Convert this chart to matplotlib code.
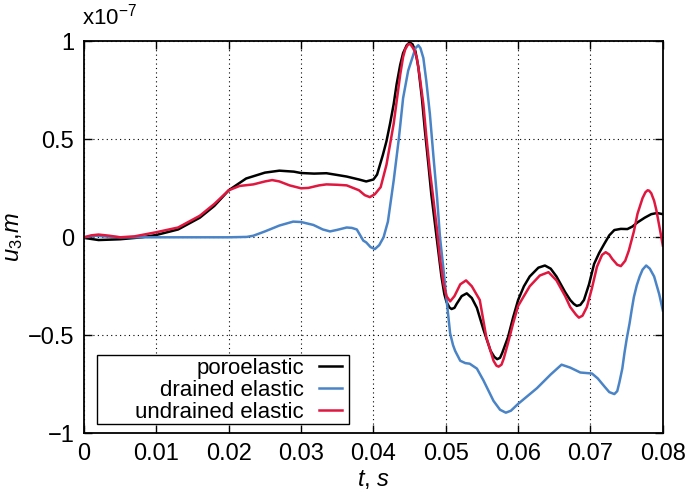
import matplotlib.pyplot as plt
from matplotlib.patches import Rectangle

# time in s, displacement in units of 1e-7 m
t_poro = [0.000, 0.002, 0.005, 0.008, 0.010, 0.013, 0.016, 0.018, 0.020, 0.0224,
          0.025, 0.027, 0.029, 0.030, 0.0318, 0.0335, 0.035, 0.0363, 0.038, 0.039,
          0.040, 0.0405, 0.0409, 0.0413, 0.0418, 0.0423, 0.0428, 0.0432, 0.0437, 0.0441,
          0.0446, 0.0450, 0.0454, 0.0458, 0.0462, 0.0467, 0.0471, 0.0476, 0.0480, 0.0485,
          0.0490, 0.0494, 0.0498, 0.0501, 0.0505, 0.0508, 0.0512, 0.0515, 0.0522, 0.0529,
          0.0536, 0.0543, 0.0552, 0.0562, 0.0567, 0.0571, 0.0575, 0.0578, 0.0586, 0.0593,
          0.0600, 0.0608, 0.0616, 0.0628, 0.0637, 0.0645, 0.0653, 0.0665, 0.0672, 0.0677,
          0.0681, 0.0686, 0.0691, 0.0698, 0.0705, 0.0712, 0.0719, 0.0726, 0.0733, 0.0742,
          0.0751, 0.0758, 0.0765, 0.0775, 0.0784, 0.0792, 0.0800]
u_poro = [-0.003, -0.014, -0.010, 0.000, 0.012, 0.040, 0.100, 0.160, 0.240, 0.300,
          0.330, 0.340, 0.335, 0.328, 0.325, 0.327, 0.318, 0.310, 0.295, 0.285,
          0.295, 0.320, 0.370, 0.420, 0.490, 0.580, 0.680, 0.780, 0.880, 0.940,
          0.980, 0.995, 0.985, 0.950, 0.870, 0.710, 0.550, 0.370, 0.220, 0.070,
          -0.080, -0.200, -0.290, -0.330, -0.358, -0.366, -0.360, -0.340, -0.300, -0.286,
          -0.310, -0.360, -0.470, -0.580, -0.610, -0.622, -0.615, -0.590, -0.510, -0.410,
          -0.320, -0.250, -0.200, -0.155, -0.144, -0.160, -0.200, -0.280, -0.320, -0.340,
          -0.350, -0.345, -0.320, -0.240, -0.136, -0.080, -0.034, 0.010, 0.037, 0.043,
          0.042, 0.055, 0.076, 0.100, 0.118, 0.124, 0.118]

t_drained = [0.000, 0.0015, 0.003, 0.005, 0.010, 0.015, 0.020, 0.0225, 0.0234, 0.025,
             0.027, 0.0289, 0.030, 0.0317, 0.033, 0.034, 0.035, 0.0363, 0.037, 0.0377,
             0.0386, 0.039, 0.0396, 0.0402, 0.0408, 0.0414, 0.042, 0.0428, 0.0435, 0.0441,
             0.0448, 0.0455, 0.0458, 0.0462, 0.0465, 0.0469, 0.0473, 0.0478, 0.0483, 0.0488,
             0.0492, 0.0497, 0.0502, 0.0506, 0.0510, 0.0513, 0.0520, 0.0527, 0.0533, 0.0543,
             0.0552, 0.0566, 0.0575, 0.0583, 0.0590, 0.0600, 0.0626, 0.0645, 0.0660, 0.0672,
             0.0686, 0.0702, 0.0710, 0.0719, 0.0726, 0.0733, 0.0737, 0.0740, 0.0744, 0.0747,
             0.0750, 0.0754, 0.0757, 0.0760, 0.0764, 0.0768, 0.0772, 0.0777, 0.0782, 0.0788,
             0.0795, 0.0800]
u_drained = [0.000, 0.008, 0.004, 0.000, 0.000, 0.000, 0.000, 0.002, 0.008, 0.030,
             0.060, 0.080, 0.078, 0.063, 0.040, 0.030, 0.038, 0.050, 0.048, 0.040,
             -0.017, -0.026, -0.050, -0.060, -0.040, 0.000, 0.080, 0.290, 0.500, 0.710,
             0.850, 0.930, 0.965, 0.980, 0.965, 0.915, 0.800, 0.630, 0.410, 0.200,
             0.000, -0.170, -0.350, -0.490, -0.550, -0.580, -0.630, -0.642, -0.645, -0.670,
             -0.730, -0.835, -0.880, -0.895, -0.885, -0.850, -0.770, -0.700, -0.650, -0.665,
             -0.690, -0.695, -0.720, -0.760, -0.790, -0.800, -0.785, -0.740, -0.670, -0.590,
             -0.520, -0.440, -0.370, -0.305, -0.245, -0.200, -0.165, -0.144, -0.160, -0.200,
             -0.290, -0.373]

t_undrained = [0.000, 0.001, 0.002, 0.0035, 0.005, 0.007, 0.010, 0.013, 0.016, 0.018,
               0.020, 0.0215, 0.0234, 0.025, 0.026, 0.027, 0.0284, 0.030, 0.031, 0.0325,
               0.0335, 0.035, 0.0363, 0.038, 0.0388, 0.0395, 0.0402, 0.041, 0.0418, 0.0428,
               0.0437, 0.0441, 0.0444, 0.0448, 0.0451, 0.0454, 0.0457, 0.0460, 0.0464, 0.0469,
               0.0473, 0.0478, 0.0483, 0.0488, 0.0492, 0.0497, 0.0501, 0.0506, 0.0512, 0.0520,
               0.0528, 0.0536, 0.0547, 0.0556, 0.0566, 0.0570, 0.0573, 0.0577, 0.0580, 0.0586,
               0.0593, 0.0600, 0.0616, 0.0630, 0.0642, 0.0653, 0.0665, 0.0672, 0.0680, 0.0684,
               0.0689, 0.0695, 0.0702, 0.0709, 0.0716, 0.0721, 0.0726, 0.0730, 0.0737, 0.0742,
               0.0748, 0.0753, 0.0760, 0.0765, 0.0772, 0.0776, 0.0779, 0.0781, 0.0784, 0.0788,
               0.0791, 0.0794, 0.0797, 0.0800]
u_undrained = [0.000, 0.010, 0.014, 0.008, 0.000, 0.005, 0.026, 0.050, 0.110, 0.170,
               0.240, 0.262, 0.270, 0.285, 0.292, 0.285, 0.265, 0.250, 0.252, 0.265,
               0.270, 0.268, 0.265, 0.240, 0.215, 0.205, 0.220, 0.256, 0.370, 0.580,
               0.830, 0.920, 0.960, 0.985, 0.985, 0.970, 0.950, 0.915, 0.820, 0.680,
               0.520, 0.340, 0.190, 0.034, -0.110, -0.240, -0.300, -0.327, -0.300, -0.240,
               -0.220, -0.250, -0.320, -0.510, -0.630, -0.655, -0.660, -0.650, -0.620, -0.540,
               -0.440, -0.350, -0.250, -0.195, -0.178, -0.220, -0.300, -0.356, -0.395, -0.410,
               -0.400, -0.356, -0.260, -0.150, -0.090, -0.076, -0.088, -0.110, -0.140, -0.147,
               -0.120, -0.068, 0.030, 0.120, 0.200, 0.230, 0.240, 0.238, 0.225, 0.186,
               0.140, 0.080, 0.020, -0.042]

x_ticks = [0, 0.01, 0.02, 0.03, 0.04, 0.05, 0.06, 0.07, 0.08]
x_ticklabels = ["0", "0.01", "0.02", "0.03", "0.04", "0.05", "0.06", "0.07", "0.08"]
y_ticks = [-1, -0.5, 0, 0.5, 1]
y_ticklabels = ["\u22121", "\u22120.5", "0", "0.5", "1"]

plt.rcParams['font.family'] = ['Liberation Sans', 'DejaVu Sans']
plt.rcParams['font.size'] = 17
plt.rcParams['mathtext.fontset'] = 'custom'
plt.rcParams['mathtext.it'] = 'Liberation Sans:italic'
plt.rcParams['mathtext.rm'] = 'Liberation Sans'

fig = plt.figure(figsize=(6.89, 4.98), dpi=100)
ax = fig.add_axes([0.122, 0.130, 0.840, 0.787])

ax.plot(t_poro, u_poro, color='black', lw=1.8, label='poroelastic')
ax.plot(t_drained, u_drained, color='#4a84c6', lw=1.8, label='drained elastic')
ax.plot(t_undrained, u_undrained, color='#e0173f', lw=1.8, label='undrained elastic')

ax.set_xlim(0, 0.08)
ax.set_ylim(-1, 1)
ax.set_xticks(x_ticks)
ax.set_xticklabels(x_ticklabels)
ax.set_yticks(y_ticks)
ax.set_yticklabels(y_ticklabels)
ax.tick_params(direction='in', length=6, width=1, top=True, right=True, pad=7)
ax.grid(True, color='black', linestyle=(0, (1, 3)), linewidth=0.8)
for s in ax.spines.values():
    s.set_linewidth(1.3)

ax.set_xlabel('$t$, $s$', labelpad=2)
ax.set_ylabel('$u_3$,$m$', labelpad=2)
fig.text(0.119, 0.94, 'x10$^{-7}$', fontsize=16, ha='left', va='bottom')

# legend box drawn separately (wide left margin like the original)
box = Rectangle((0.0225, 0.023), 0.435, 0.176, transform=ax.transAxes,
                facecolor='white', edgecolor='black', lw=1.0, zorder=4)
ax.add_patch(box)
leg = ax.legend(loc='center right', bbox_to_anchor=(0.4456, 0.11), markerfirst=False,
                frameon=False, fontsize=16, handlelength=1.05, borderaxespad=0,
                labelspacing=0.05, borderpad=0, handletextpad=0.65)
leg.set_zorder(5)

fig.savefig('out.png', dpi=100)
